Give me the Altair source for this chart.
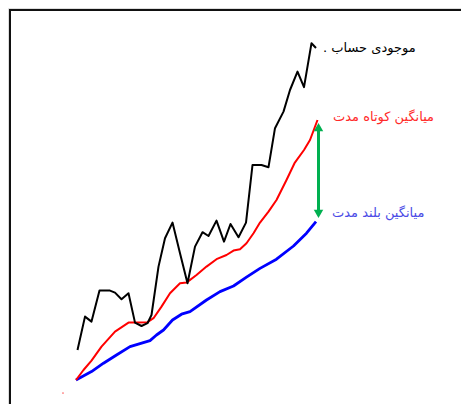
import altair as alt
import pandas as pd

# time index (t) and value (v)
bal_t = [13.9, 15.4, 16.7, 18.3, 20.4, 21.4, 22.7, 24.1, 25.4, 26.7, 27.9, 28.7, 30.1, 31.4,
         32.9, 34.4, 35.9, 37.4, 38.9, 40.1, 41.7, 43.2, 44.5, 46.1, 47.6, 48.9, 50.7, 52.1,
         53.4, 55.1, 56.4, 57.9, 59.2, 60.7, 61.6]
bal_v = [31.0, 47.7, 45.2, 60.7, 60.7, 59.7, 56.4, 59.4, 44.7, 43.0, 44.4, 48.5, 72.7, 86.9,
         94.7, 79.4, 64.4, 82.7, 89.9, 88.0, 95.7, 85.2, 94.0, 87.4, 94.7, 123.5, 123.5, 122.4,
         141.9, 150.2, 161.0, 170.2, 162.4, 184.4, 182.0]

short_t = [13.6, 15.1, 16.7, 18.7, 21.4, 24.1, 26.1, 27.9, 29.1, 30.7, 32.4, 34.4, 35.7, 37.7,
           39.7, 41.7, 43.7, 45.1, 46.4, 47.7, 49.1, 50.4, 52.1, 53.7, 55.7, 57.3, 59.2, 60.4, 61.9]
short_v = [16.0, 21.0, 25.7, 32.7, 40.2, 44.7, 44.7, 44.9, 46.9, 52.7, 59.4, 64.4, 64.7, 68.5,
           72.7, 76.4, 78.5, 80.7, 81.4, 84.4, 89.4, 94.7, 100.2, 106.0, 116.0, 124.4, 131.0, 136.0, 146.0]

long_t = [13.6, 16.7, 19.1, 21.7, 24.4, 28.4, 29.7, 31.1, 32.9, 34.7, 36.4, 39.7, 42.4, 45.1,
          47.7, 50.4, 53.7, 57.1, 59.7, 61.6]
long_v = [16.0, 20.2, 24.4, 28.5, 32.7, 35.7, 38.5, 41.0, 46.0, 48.9, 50.2, 56.0, 60.2, 63.0,
          67.4, 71.8, 76.4, 83.0, 89.4, 95.2]

labels = [". موجودی حساب", "میانگین کوتاه مدت", "میانگین بلند مدت"]
label_t = [63.0, 65.0, 64.8]
label_v = [182.0, 147.5, 99.5]
label_colors = ["#000000", "#ff2a2a", "#4b4be6"]

gap_t = 62.1
gap_top = 145.0
gap_bottom = 96.5

W, H = 453, 396
xs = alt.Scale(domain=[0, 90.6], nice=False, zero=False)
ys = alt.Scale(domain=[4, 202], nice=False, zero=False)

def line(ts, vs, color, width):
    df = pd.DataFrame({"t": ts, "v": vs, "o": list(range(len(ts)))})
    return alt.Chart(df).mark_line(color=color, strokeWidth=width, strokeJoin="round").encode(
        x=alt.X("t:Q", scale=xs, axis=None),
        y=alt.Y("v:Q", scale=ys, axis=None),
        order="o:Q",
    )

black = line(bal_t, bal_v, "#000000", 2)
red = line(short_t, short_v, "#ff0000", 2)
blue = line(long_t, long_v, "#0000ff", 2.8)

arrow_df = pd.DataFrame({"t": [gap_t], "v1": [gap_top - 4], "v2": [gap_bottom + 4]})
arrow = alt.Chart(arrow_df).mark_rule(color="#00b050", strokeWidth=3).encode(
    x=alt.X("t:Q", scale=xs, axis=None),
    y=alt.Y("v1:Q", scale=ys, axis=None),
    y2="v2:Q",
)
head_df = pd.DataFrame({"t": [gap_t, gap_t], "v": [gap_top - 2.6, gap_bottom + 2.6],
                        "shape": ["triangle-up", "triangle-down"]})
heads = alt.Chart(head_df).mark_point(filled=True, color="#00b050", opacity=1, size=90).encode(
    x=alt.X("t:Q", scale=xs, axis=None),
    y=alt.Y("v:Q", scale=ys, axis=None),
    shape=alt.Shape("shape:N", scale=None),
)

dot = alt.Chart(pd.DataFrame({"t": [11.0], "v": [9.5]})).mark_point(
    filled=True, color="#ff6666", size=3, opacity=1).encode(
    x=alt.X("t:Q", scale=xs, axis=None), y=alt.Y("v:Q", scale=ys, axis=None))

lab_df = pd.DataFrame({"label": labels, "t": label_t, "v": label_v, "c": label_colors})
texts = alt.Chart(lab_df).mark_text(align="left", baseline="middle", font="DejaVu Sans",
                                    fontSize=13).encode(
    x=alt.X("t:Q", scale=xs, axis=None),
    y=alt.Y("v:Q", scale=ys, axis=None),
    text="label:N",
    color=alt.Color("c:N", scale=None),
)

border_l = alt.Chart(pd.DataFrame({"a": [0]})).mark_rule(color="#111111", strokeWidth=2).encode(
    x=alt.value(2), y=alt.value(1), y2=alt.value(H))
border_t = alt.Chart(pd.DataFrame({"a": [0]})).mark_rule(color="#111111", strokeWidth=2).encode(
    y=alt.value(2), x=alt.value(1), x2=alt.value(W))

chart = alt.layer(border_l, border_t, blue, red, black, arrow, heads, dot, texts).properties(
    width=W, height=H, padding=0, autosize=alt.AutoSizeParams(type="none")
).configure_view(stroke=None).configure(background="white")

chart.save("out.html", embed_options={"renderer": "svg", "actions": False})
